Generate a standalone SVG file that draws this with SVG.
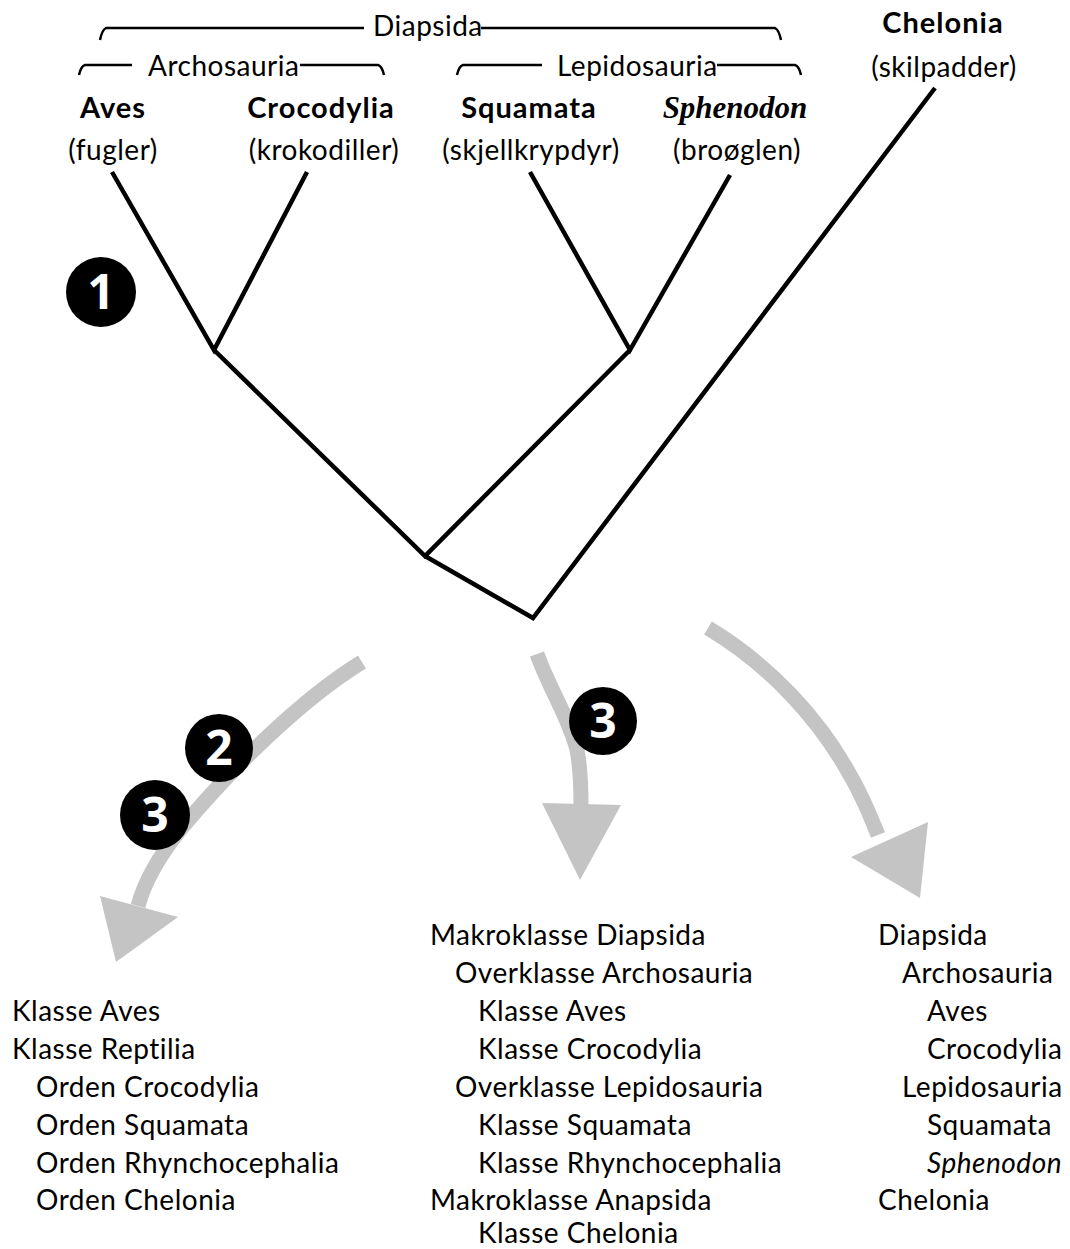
<svg xmlns="http://www.w3.org/2000/svg" width="1070" height="1249" viewBox="0 0 1070 1249">
<style>
  .t { font-family: Lato, "Open Sans", "Liberation Sans", sans-serif; font-size: 28px; letter-spacing: 0.5px; fill: #000; }
  .b { font-weight: bold; font-size: 29px; letter-spacing: 1px; }
  .c { text-anchor: middle; }
  .sph { font-family: "Liberation Serif", serif; font-weight: bold; font-style: italic; font-size: 31px; }
  .it { font-style: italic; }
  .br { fill: none; stroke: #000; stroke-width: 2.5; }
  .tree { fill: none; stroke: #000; stroke-width: 4.5; stroke-linejoin: miter; stroke-linecap: butt; }
  .ga { fill: none; stroke: #c4c4c4; stroke-width: 15; }
  .gh { fill: #c4c4c4; }
  .num circle { fill: #000; }
  .num text { font-family: "Open Sans", Lato, "Liberation Sans", sans-serif; font-weight: bold; font-size: 48px; fill: #fff; text-anchor: middle; }
</style>
<rect width="1070" height="1249" fill="#fff"/>

<g id="brackets">
  <g id="diapsida-bracket">
    <path class="br" d="M100,40 Q102,30 106,28 L364,28"/>
    <text class="t" x="373" y="36">Diapsida</text>
    <path class="br" d="M481,28 L775,28 Q779,30 781,40"/>
  </g>
  <g id="archosauria-bracket">
    <path class="br" d="M79,75 Q81,66 85,65 L132,65"/>
    <text class="t" x="148" y="76">Archosauria</text>
    <path class="br" d="M300,65 L378,65 Q382,66 384,75"/>
  </g>
  <g id="lepidosauria-bracket">
    <path class="br" d="M457,75 Q459,66 463,65 L542,65"/>
    <text class="t" x="557" y="76">Lepidosauria</text>
    <path class="br" d="M717,65 L795,65 Q799,66 801,75"/>
  </g>
</g>

<g id="connectors">
  <polyline class="tree" points="112,172 214,350 307,172"/>
  <polyline class="tree" points="530,172 630,350 730,175"/>
  <polyline class="tree" points="214,350 425,556 630,350"/>
  <polyline class="tree" points="425,556 533,618 935,88"/>
  <g id="arrow-left">
    <path class="ga" d="M362,662 C300,700 230,770 180,830 C160,855 145,880 138,906"/>
    <polygon class="gh" points="100,896 178,917 116,962"/>
  </g>
  <g id="arrow-middle">
    <path class="ga" d="M537,654 C550,690 570,720 577,750 C581,770 581,790 581,806"/>
    <polygon class="gh" points="542,803 621,805 580,880"/>
  </g>
  <g id="arrow-right">
    <path class="ga" d="M708,628 C770,665 820,720 850,775 C862,795 870,815 878,835"/>
    <polygon class="gh" points="851,857 928,822 920,898"/>
  </g>
</g>

<g id="node-aves">
  <text class="t b c" x="113" y="118">Aves</text>
  <text class="t c" x="113" y="160">(fugler)</text>
</g>
<g id="node-crocodylia">
  <text class="t b c" x="321" y="118">Crocodylia</text>
  <text class="t c" x="324" y="160">(krokodiller)</text>
</g>
<g id="node-squamata">
  <text class="t b c" x="529" y="118">Squamata</text>
  <text class="t c" x="531" y="160">(skjellkrypdyr)</text>
</g>
<g id="node-sphenodon">
  <text class="sph c" x="735" y="118">Sphenodon</text>
  <text class="t c" x="737" y="160">(broøglen)</text>
</g>
<g id="node-chelonia">
  <text class="t b c" x="943" y="33">Chelonia</text>
  <text class="t c" x="944" y="77">(skilpadder)</text>
</g>

<g id="num-1" class="num"><circle cx="101" cy="292" r="35"/><text x="101" y="309">1</text></g>
<g id="num-2" class="num"><circle cx="219" cy="748" r="34"/><text x="219" y="765">2</text></g>
<g id="num-3a" class="num"><circle cx="155" cy="815" r="35"/><text x="155" y="832">3</text></g>
<g id="num-3b" class="num"><circle cx="603" cy="721" r="34"/><text x="603" y="738">3</text></g>

<g id="list-left" class="t">
  <text x="12" y="1021">Klasse Aves</text>
  <text x="12" y="1059">Klasse Reptilia</text>
  <text x="36" y="1097">Orden Crocodylia</text>
  <text x="36" y="1135">Orden Squamata</text>
  <text x="36" y="1173">Orden Rhynchocephalia</text>
  <text x="36" y="1210">Orden Chelonia</text>
</g>
<g id="list-middle" class="t">
  <text x="430" y="945">Makroklasse Diapsida</text>
  <text x="455" y="983">Overklasse Archosauria</text>
  <text x="478" y="1021">Klasse Aves</text>
  <text x="478" y="1059">Klasse Crocodylia</text>
  <text x="455" y="1097">Overklasse Lepidosauria</text>
  <text x="478" y="1135">Klasse Squamata</text>
  <text x="478" y="1173">Klasse Rhynchocephalia</text>
  <text x="430" y="1210">Makroklasse Anapsida</text>
  <text x="478" y="1243">Klasse Chelonia</text>
</g>
<g id="list-right" class="t">
  <text x="878" y="945">Diapsida</text>
  <text x="902" y="983">Archosauria</text>
  <text x="927" y="1021">Aves</text>
  <text x="927" y="1059">Crocodylia</text>
  <text x="902" y="1097">Lepidosauria</text>
  <text x="927" y="1135">Squamata</text>
  <text x="927" y="1173" class="it">Sphenodon</text>
  <text x="878" y="1210">Chelonia</text>
</g>
</svg>
